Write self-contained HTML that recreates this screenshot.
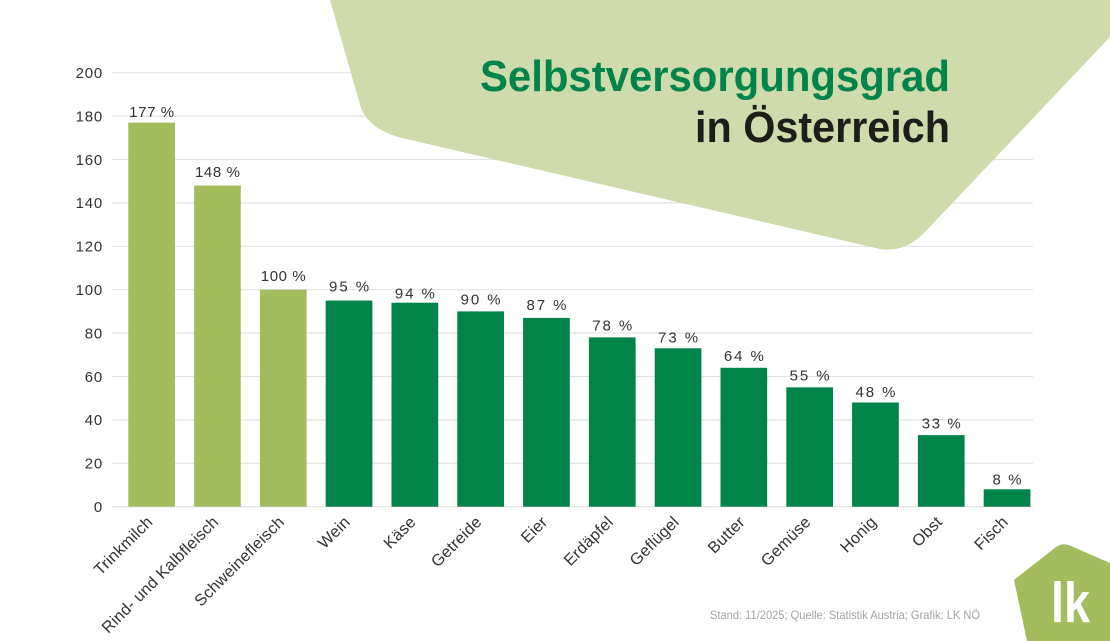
<!DOCTYPE html>
<html>
<head>
<meta charset="utf-8">
<style>
html,body{margin:0;padding:0;background:#fff;}
svg{display:block;}
text{font-family:"Liberation Sans",Arial,sans-serif;}
</style>
</head>
<body>
<svg width="1110" height="641" viewBox="0 0 1110 641" xmlns="http://www.w3.org/2000/svg">
  <rect width="1110" height="641" fill="#ffffff"/>
  <!-- gridlines -->
  <g stroke="#e2e2e2" stroke-width="1.2">
    <line x1="112" y1="506.7" x2="1033" y2="506.7"/>
    <line x1="112" y1="463.3" x2="1033" y2="463.3"/>
    <line x1="112" y1="419.9" x2="1033" y2="419.9"/>
    <line x1="112" y1="376.5" x2="1033" y2="376.5"/>
    <line x1="112" y1="333.1" x2="1033" y2="333.1"/>
    <line x1="112" y1="289.7" x2="1033" y2="289.7"/>
    <line x1="112" y1="246.3" x2="1033" y2="246.3"/>
    <line x1="112" y1="202.9" x2="1033" y2="202.9"/>
    <line x1="112" y1="159.5" x2="1033" y2="159.5"/>
    <line x1="112" y1="116.1" x2="1033" y2="116.1"/>
    <line x1="112" y1="72.7" x2="1033" y2="72.7"/>
  </g>
  <!-- background shape -->
  <path d="M330,0 L1110,0 L1110,37 L925,232 Q905,253 880,249 L402,138 Q370,130 361,108 Z" fill="#cfdbab"/>
  <!-- title -->
  <text x="950" y="91" text-anchor="end" font-size="44" font-weight="bold" fill="#00844a" textLength="470" lengthAdjust="spacingAndGlyphs">Selbstversorgungsgrad</text>
  <text x="950" y="142" text-anchor="end" font-size="44" font-weight="bold" fill="#1d1d1b" textLength="255" lengthAdjust="spacingAndGlyphs">in Österreich</text>

  <!-- y tick labels -->
  <g font-size="15" fill="#333" text-anchor="end" letter-spacing="0.8">
    <text x="103" y="512">0</text>
    <text x="103" y="468.6">20</text>
    <text x="103" y="425.2">40</text>
    <text x="103" y="381.8">60</text>
    <text x="103" y="338.4">80</text>
    <text x="103" y="295">100</text>
    <text x="103" y="251.6">120</text>
    <text x="103" y="208.2">140</text>
    <text x="103" y="164.8">160</text>
    <text x="103" y="121.4">180</text>
    <text x="103" y="78">200</text>
  </g>

  <!-- bars -->
  <g fill="#a3bd5e">
    <rect x="128.3" y="122.6" width="46.7" height="384.1"/>
    <rect x="194.1" y="185.5" width="46.7" height="321.2"/>
    <rect x="259.9" y="289.7" width="46.7" height="217"/>
  </g>
  <g fill="#008449">
    <rect x="325.7" y="300.55" width="46.7" height="206.15"/>
    <rect x="391.5" y="302.7" width="46.7" height="204"/>
    <rect x="457.3" y="311.4" width="46.7" height="195.3"/>
    <rect x="523.1" y="317.9" width="46.7" height="188.8"/>
    <rect x="588.9" y="337.4" width="46.7" height="169.3"/>
    <rect x="654.7" y="348.3" width="46.7" height="158.4"/>
    <rect x="720.5" y="367.8" width="46.7" height="138.9"/>
    <rect x="786.3" y="387.35" width="46.7" height="119.35"/>
    <rect x="852.1" y="402.5" width="46.7" height="104.2"/>
    <rect x="917.9" y="435.1" width="46.7" height="71.6"/>
    <rect x="983.7" y="489.3" width="46.7" height="17.4"/>
  </g>

  <!-- value labels -->
  <g font-size="15" fill="#333" text-anchor="middle">
    <text x="151.65" y="117.2" textLength="45" lengthAdjust="spacing">177 %</text>
    <text x="217.45" y="177.1" textLength="45" lengthAdjust="spacing">148 %</text>
    <text x="283.25" y="281.1" textLength="45" lengthAdjust="spacing">100 %</text>
    <text x="349.05" y="291.6" textLength="40" lengthAdjust="spacing">95 %</text>
    <text x="414.85" y="298.3" textLength="40" lengthAdjust="spacing">94 %</text>
    <text x="480.65" y="304.7" textLength="40" lengthAdjust="spacing">90 %</text>
    <text x="546.45" y="310.2" textLength="40" lengthAdjust="spacing">87 %</text>
    <text x="612.25" y="330.4" textLength="40" lengthAdjust="spacing">78 %</text>
    <text x="678.05" y="342.3" textLength="40" lengthAdjust="spacing">73 %</text>
    <text x="743.85" y="360.8" textLength="40" lengthAdjust="spacing">64 %</text>
    <text x="809.65" y="380.3" textLength="40" lengthAdjust="spacing">55 %</text>
    <text x="875.45" y="397" textLength="40" lengthAdjust="spacing">48 %</text>
    <text x="941.25" y="428.4" textLength="39" lengthAdjust="spacing">33 %</text>
    <text x="1007.05" y="484.3" textLength="29" lengthAdjust="spacing">8 %</text>
  </g>

  <!-- x labels -->
  <g font-size="16.2" fill="#333" text-anchor="end" letter-spacing="0.2">
    <text transform="translate(153.6,523) rotate(-45)">Trinkmilch</text>
    <text transform="translate(219.4,523) rotate(-45)">Rind- und Kalbfleisch</text>
    <text transform="translate(285.2,523) rotate(-45)">Schweinefleisch</text>
    <text transform="translate(351,523) rotate(-45)">Wein</text>
    <text transform="translate(416.8,523) rotate(-45)">Käse</text>
    <text transform="translate(482.6,523) rotate(-45)">Getreide</text>
    <text transform="translate(548.4,523) rotate(-45)">Eier</text>
    <text transform="translate(614.2,523) rotate(-45)">Erdäpfel</text>
    <text transform="translate(680,523) rotate(-45)">Geflügel</text>
    <text transform="translate(745.8,523) rotate(-45)">Butter</text>
    <text transform="translate(811.6,523) rotate(-45)">Gemüse</text>
    <text transform="translate(877.4,523) rotate(-45)">Honig</text>
    <text transform="translate(943.2,523) rotate(-45)">Obst</text>
    <text transform="translate(1009,523) rotate(-45)">Fisch</text>
  </g>

  <!-- footer -->
  <text x="710" y="619" font-size="12" fill="#a3a3a3" textLength="270" lengthAdjust="spacingAndGlyphs">Stand: 11/2025; Quelle: Statistik Austria; Grafik: LK NÖ</text>

  <!-- logo -->
  <path d="M1014,580 L1056,547 Q1063,542 1071,546 L1110,563 L1110,641 L1027,641 Z" fill="#a3bd5e"/>
  <text x="1051" y="622" font-size="57" font-weight="bold" fill="#ffffff" textLength="39" lengthAdjust="spacingAndGlyphs">lk</text>
</svg>
</body>
</html>
